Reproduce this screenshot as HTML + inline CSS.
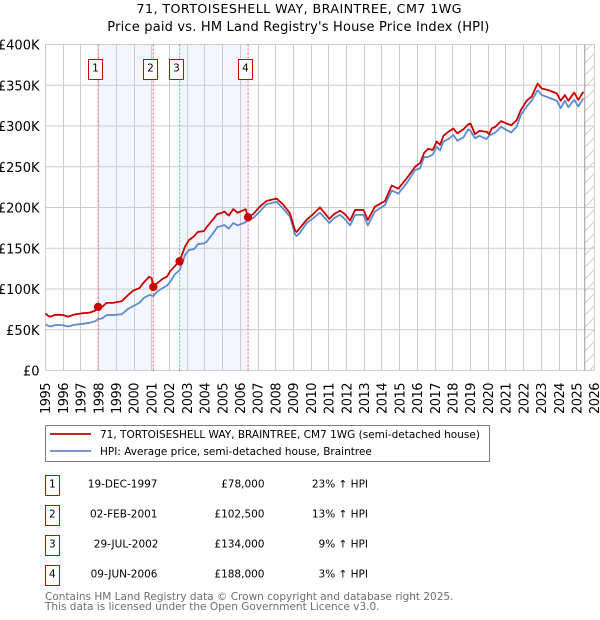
<!DOCTYPE html>
<html>
<head>
<meta charset="utf-8">
<title>71, TORTOISESHELL WAY price chart</title>
<style>
html,body{margin:0;padding:0;background:#fff;width:600px;height:620px;overflow:hidden}
svg{display:block}
text{font-family:"DejaVu Sans","Liberation Sans",sans-serif;fill:#000}
</style>
</head>
<body>
<svg id="chart" xmlns="http://www.w3.org/2000/svg" width="600" height="620" viewBox="0 0 600 620">
<defs>
<pattern id="hatch" patternUnits="userSpaceOnUse" width="12" height="12">
<path d="M-3 3L3 -3M0 12L12 0M9 15L15 9" stroke="#cfcfcf" stroke-width="1" fill="none"/>
</pattern>
</defs>
<text x="136.5" y="13" font-size="12.7" textLength="325" lengthAdjust="spacing">71, TORTOISESHELL WAY, BRAINTREE, CM7 1WG</text>
<text x="107.3" y="31" font-size="13" textLength="382" lengthAdjust="spacing">Price paid vs. HM Land Registry's House Price Index (HPI)</text>
<g id="shade"></g>
<g id="grid"></g>
<g id="hatchg"></g>
<g id="ylabels"></g>
<g id="xlabels"></g>
<g id="vlines"></g>
<g id="lines"></g>
<g id="markers"></g>
<g id="boxes"></g>

<g>
<rect x="45.5" y="425.5" width="444" height="36" fill="#fff" stroke="#808080" stroke-width="1"/>
<line x1="50" y1="434" x2="91" y2="434" stroke="#cc0000" stroke-width="1.8"/>
<text x="100" y="438" font-size="10.5">71, TORTOISESHELL WAY, BRAINTREE, CM7 1WG (semi-detached house)</text>
<line x1="50" y1="451" x2="91" y2="451" stroke="#5b8bd0" stroke-width="1.8"/>
<text x="100" y="455" font-size="10.5">HPI: Average price, semi-detached house, Braintree</text>
</g>

<g font-size="10.5">
<g>
<rect x="45.5" y="475.5" width="14" height="20" fill="#fff" stroke="#cc0000"/>
<text x="52.3" y="487.5" text-anchor="middle">1</text>
<text x="157.5" y="487.5" text-anchor="end">19-DEC-1997</text>
<text x="264.5" y="487.5" text-anchor="end">£78,000</text>
<text x="368" y="487.5" text-anchor="end">23% ↑ HPI</text>
</g>
<g>
<rect x="45.5" y="505.5" width="14" height="20" fill="#fff" stroke="#cc0000"/>
<text x="52.3" y="517.5" text-anchor="middle">2</text>
<text x="157.5" y="517.5" text-anchor="end">02-FEB-2001</text>
<text x="264.5" y="517.5" text-anchor="end">£102,500</text>
<text x="368" y="517.5" text-anchor="end">13% ↑ HPI</text>
</g>
<g>
<rect x="45.5" y="535.5" width="14" height="20" fill="#fff" stroke="#cc0000"/>
<text x="52.3" y="547.5" text-anchor="middle">3</text>
<text x="158.5" y="547.5" text-anchor="end">29-JUL-2002</text>
<text x="264.5" y="547.5" text-anchor="end">£134,000</text>
<text x="368" y="547.5" text-anchor="end">9% ↑ HPI</text>
</g>
<g>
<rect x="45.5" y="565.5" width="14" height="20" fill="#fff" stroke="#cc0000"/>
<text x="52.3" y="577.5" text-anchor="middle">4</text>
<text x="157.5" y="577.5" text-anchor="end">09-JUN-2006</text>
<text x="264.5" y="577.5" text-anchor="end">£188,000</text>
<text x="368" y="577.5" text-anchor="end">3% ↑ HPI</text>
</g>
</g>

<text x="45" y="600" font-size="10.5" style="fill:#6e6e6e">Contains HM Land Registry data © Crown copyright and database right 2025.</text>
<text x="45" y="610" font-size="10.5" style="fill:#6e6e6e">This data is licensed under the Open Government Licence v3.0.</text>
</svg>

<script>
var dates = [1995,1995.15,1995.3,1995.5,1995.75,1996,1996.3,1996.6,1997,1997.5,1997.8,1997.97,1998.2,1998.45,1998.8,1999.3,1999.66,1999.95,2000.3,2000.55,2000.85,2001,2001.09,2001.3,2001.65,2001.85,2002.05,2002.3,2002.57,2002.88,2003.1,2003.4,2003.6,2003.95,2004.1,2004.45,2004.7,2004.9,2005.1,2005.35,2005.6,2005.85,2006.3,2006.44,2006.73,2007.1,2007.48,2008.05,2008.4,2008.8,2009.09,2009.18,2009.37,2009.75,2010.12,2010.5,2011.03,2011.3,2011.63,2011.9,2012.2,2012.48,2012.95,2013.2,2013.6,2014.17,2014.55,2014.92,2015.4,2015.87,2016.15,2016.38,2016.6,2016.87,2017.09,2017.28,2017.47,2017.75,2018.03,2018.25,2018.6,2018.87,2019,2019.25,2019.5,2019.9,2020.05,2020.2,2020.4,2020.72,2021.04,2021.3,2021.6,2021.83,2022.17,2022.45,2022.79,2023.02,2023.39,2023.87,2024.09,2024.33,2024.52,2024.85,2025.09,2025.37];
var pricePaid = [70,67,66,68,68.5,68,66,68.5,70,71,73.5,78,78,83,83,85,92.5,98,101,108,115,113,102.5,107,113,115,122,128,134,152,160,165,170,171,176,185,192,193,195,190,198,193.5,198,188,192,201,208,211,204,193,172,170,175,185,192,200,186,192,196,192,184,197,197,184.7,201,208,227,223,236,250,254.5,267,272,270.7,281,277,288,293,297,291,296,302,303,290,294,293,290,297,299,306,303,301,307,319,331,336,352,346,344,340,331,338,331,341,332,342];
var hpi = [56.5,55,54,55.5,56,55.5,54,56,57,58.5,60.5,63,64,68,68,69,75.5,79,83,89,92.5,92,91.4,96.8,101.6,104,109,118,123,141.7,147.8,149,155,156,158,168,176,177,178.5,174,181,178,182,186,187,195,204,207,199,189,167,165,169,181,187,193.6,181,187,191,186,178,191,191,178,195,203,221,217,230,246,248,262,262,265,274.6,270,281,284,289,282,286,296,294,285,288,284,288,290,292,299,295,292,299,313,324,331,344,338,335,331,322,331,323,332,324,334];
var saleDates = [1997.97,2001.09,2002.57,2006.44];
var salePrices = [78,102.5,134,188];
var saleNumbers = ["1","2","3","4"];
var yTicks = [0,50,100,150,200,250,300,350,400];
var yTickLabels = ["£0","£50K","£100K","£150K","£200K","£250K","£300K","£350K","£400K"];
var xTicks = [1995,1996,1997,1998,1999,2000,2001,2002,2003,2004,2005,2006,2007,2008,2009,2010,2011,2012,2013,2014,2015,2016,2017,2018,2019,2020,2021,2022,2023,2024,2025,2026];
var dataEnd = 2025.45;

var NS = 'http://www.w3.org/2000/svg';
var L = 45.5, R = 594.5, T = 44.5, B = 370.5;
function X(t){ return L + (t - 1995) * (R - L) / 31; }
function Y(v){ return B - v * (B - T) / 400; }
function make(tag, parent, attrs){
  var e = document.createElementNS(NS, tag);
  for (var k in attrs) e.setAttribute(k, attrs[k]);
  document.getElementById(parent).appendChild(e);
  return e;
}

[[0,1],[2,3]].forEach(function(p){
  var el = make('rect','shade',{x:X(saleDates[p[0]]),y:T,width:X(saleDates[p[1]])-X(saleDates[p[0]]),height:B-T,fill:'#f3f6fe'});
  
  
});

yTicks.forEach(function(v,i){
  var y = Y(v);
  var el = make('line','grid',{x1:L,x2:R,y1:y,y2:y,stroke:'#cccccc','stroke-width':1});
  
  
  var tx = make('text','ylabels',{x:39.5,y:y+5,'font-size':13,'text-anchor':'end'});
  tx.textContent = yTickLabels[i];
  
  
});

xTicks.forEach(function(t){
  var x = Math.round(X(t) - 0.5) + 0.5;
  var el = make('line','grid',{x1:x,x2:x,y1:T,y2:B,stroke:'#cccccc','stroke-width':1});
  
  
  var tx = make('text','xlabels',{x:0,y:0,'font-size':13,'text-anchor':'end',textLength:31.5,lengthAdjust:'spacing',transform:'translate('+(X(t)+4.7)+',382.5) rotate(-90)'});
  tx.textContent = String(t);
  
  
});

var hr = make('rect','hatchg',{x:X(dataEnd),y:T,width:R-X(dataEnd),height:B-T,fill:'url(#hatch)'});


var hl = make('line','hatchg',{x1:X(dataEnd),x2:X(dataEnd),y1:T,y2:B,stroke:'#999999','stroke-width':1});



saleDates.forEach(function(t){
  var el = make('line','vlines',{x1:X(t),x2:X(t),y1:T,y2:B,stroke:'#ff6070','stroke-width':1,'stroke-dasharray':'2 2'});
  
  
});

function linePoints(vals){
  return vals.map(function(v,i){ return X(dates[i]).toFixed(2)+','+Y(v).toFixed(2); }).join(' ');
}
var blue = make('polyline','lines',{points:linePoints(hpi),fill:'none',stroke:'#5b8bd0','stroke-width':1.8,'stroke-linejoin':'round'});


var red = make('polyline','lines',{points:linePoints(pricePaid),fill:'none',stroke:'#cc0000','stroke-width':1.8,'stroke-linejoin':'round'});



saleDates.forEach(function(t,i){
  var c = make('circle','markers',{cx:X(t),cy:Y(salePrices[i]),r:4.2,fill:'#cc0000'});
  
  
  var bx = Math.round(X(t) - 10.5) + 0.5;
  var b = make('rect','boxes',{x:bx,y:59.5,width:14,height:20,fill:'#fff',stroke:'#cc0000','stroke-width':1});
  
  
  var n = make('text','boxes',{x:bx+7,y:71.5,'font-size':10.5,'text-anchor':'middle'});
  n.textContent = saleNumbers[i];
  
  
});
</script>
</body>
</html>
